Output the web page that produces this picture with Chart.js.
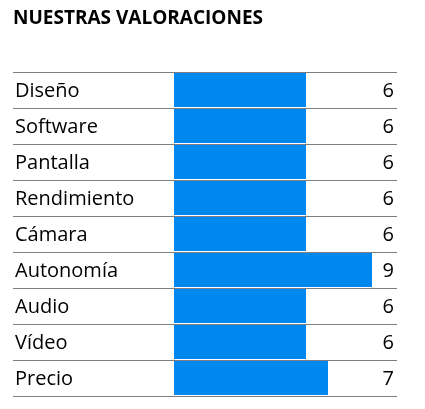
<!DOCTYPE html>
<html><head><meta charset="utf-8">
<script src="https://cdn.jsdelivr.net/npm/chart.js@4/dist/chart.umd.min.js"></script>
<style>html,body{margin:0;padding:0;background:#fff}#w{width:425px;height:409px}</style>
</head><body><div id="w"><canvas id="c"></canvas></div>
<script>
const titleText = "NUESTRAS VALORACIONES";
const categories = ["Diseño","Software","Pantalla","Rendimiento","Cámara","Autonomía","Audio","Vídeo","Precio"];
const scores = [6,6,6,6,6,9,6,6,7];
const FONT = "'Open Sans', Lato, sans-serif";
const deco = {
  id:'deco',
  afterDatasetsDraw(chart){
    const ctx = chart.ctx, y = chart.scales.y;
    ctx.save();
    ctx.fillStyle='#000';
    ctx.font = "bold 19px " + FONT;
    ctx.textBaseline='middle'; ctx.textAlign='left';
    ctx.fillText(titleText, 13, 19);
    ctx.strokeStyle='#7f7f7f'; ctx.lineWidth=1;
    const half = (y.getPixelForValue(1)-y.getPixelForValue(0))/2;
    for(let i=0;i<=categories.length;i++){
      const py = Math.round(y.getPixelForValue(i)-half)+0.5;
      ctx.beginPath(); ctx.moveTo(13,py); ctx.lineTo(397,py); ctx.stroke();
    }
    ctx.font = "20px " + FONT;
    categories.forEach((c,i)=>{
      const py = y.getPixelForValue(i)+1;
      ctx.textAlign='left'; ctx.fillText(c, 15, py);
      ctx.textAlign='right'; ctx.fillText(String(scores[i]), 394, py);
    });
    ctx.restore();
  }
};
new Chart(document.getElementById('c'),{
  type:'bar',
  data:{labels:categories,datasets:[{data:scores,backgroundColor:'#0088ee',barPercentage:0.95,categoryPercentage:1}]},
  options:{
    indexAxis:'y',responsive:true,maintainAspectRatio:false,animation:false,
    layout:{padding:{top:72,bottom:13,left:174,right:31}},
    plugins:{legend:{display:false},tooltip:{enabled:false}},
    scales:{
      x:{display:false,min:0,max:10},
      y:{display:false,grid:{display:false}}
    }
  },
  plugins:[deco]
});
</script></body></html>
